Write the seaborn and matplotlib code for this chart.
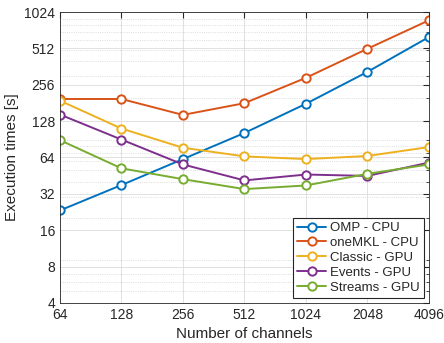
import numpy as np
import pandas as pd
import seaborn as sns
import matplotlib.pyplot as plt
from matplotlib.ticker import FixedLocator, LogLocator, NullFormatter

channels = [64, 128, 256, 512, 1024, 2048, 4096]
omp_cpu = [23.3, 37.8, 62, 102, 178, 327, 635]
onemkl_cpu = [195, 195, 144, 180, 292, 508, 874]
classic_gpu = [189, 111, 77, 65.3, 62, 65.8, 78]
events_gpu = [145, 90, 56, 41.3, 46.2, 45, 58]
streams_gpu = [89, 52, 42.3, 35, 37.5, 46.8, 56]

series = ['OMP - CPU', 'oneMKL - CPU', 'Classic - GPU', 'Events - GPU', 'Streams - GPU']
colors = ['#0072BD', '#D95319', '#EDB120', '#7E2F8E', '#77AC30']
yticks = [4, 8, 16, 32, 64, 128, 256, 512, 1024]

df = pd.DataFrame({
    'channels': channels * 5,
    'time': omp_cpu + onemkl_cpu + classic_gpu + events_gpu + streams_gpu,
    'series': [s for s in series for _ in channels],
})

sns.set_style('white')
plt.rcParams['font.family'] = ['Liberation Sans', 'DejaVu Sans']
plt.rcParams['font.size'] = 10

fig = plt.figure(figsize=(4.44, 3.43), dpi=100)
ax = fig.add_axes([0.135, 0.117, 0.831, 0.848])

sns.lineplot(data=df, x='channels', y='time', hue='series', hue_order=series,
             palette=colors, marker='o', markersize=6, markerfacecolor='white',
             markeredgewidth=1.4, linewidth=1.4, ax=ax, legend=False)
# open circles in series colour
for line, c in zip(ax.get_lines(), colors):
    line.set_markeredgecolor(c)

ax.set_xscale('log', base=2)
ax.set_yscale('log', base=2)
ax.set_xlim(64, 4096)
ax.set_ylim(4, 1024)
ax.xaxis.set_major_locator(FixedLocator(channels))
ax.set_xticklabels([str(c) for c in channels])
ax.yaxis.set_major_locator(FixedLocator(yticks))
ax.set_yticklabels([str(t) for t in yticks])
ax.xaxis.set_minor_locator(FixedLocator([]))
ax.yaxis.set_minor_locator(LogLocator(base=10, subs=np.arange(2, 10)))
ax.yaxis.set_minor_formatter(NullFormatter())

ax.grid(True, which='major', color='#dcdcdc', linewidth=0.6)
ax.grid(True, which='minor', axis='y', color='#d0d0d0', linestyle=':', linewidth=0.6)
ax.set_axisbelow(True)
for sp in ax.spines.values():
    sp.set_color('#262626')
    sp.set_linewidth(0.6)
ax.tick_params(which='both', direction='in', top=True, right=True, colors='#262626',
               labelsize=10, labelcolor='#262626')
ax.tick_params(which='major', length=4)
ax.tick_params(which='minor', length=2)

ax.set_xlabel('Number of channels', fontsize=11, color='#262626')
ax.set_ylabel('Execution times [s]', fontsize=11, color='#262626')

handles = [plt.Line2D([], [], color=c, marker='o', markerfacecolor='white',
                      markeredgecolor=c, markersize=6, markeredgewidth=1.4, linewidth=1.4)
           for c in colors]
leg = ax.legend(handles, series, loc='lower right', fontsize=9.5, fancybox=False,
                framealpha=1, edgecolor='#262626', borderpad=0.3, labelspacing=0.2,
                handlelength=2.2, handletextpad=0.3, borderaxespad=0.4)
leg.get_frame().set_linewidth(0.8)

fig.savefig('out.png', dpi=100)
